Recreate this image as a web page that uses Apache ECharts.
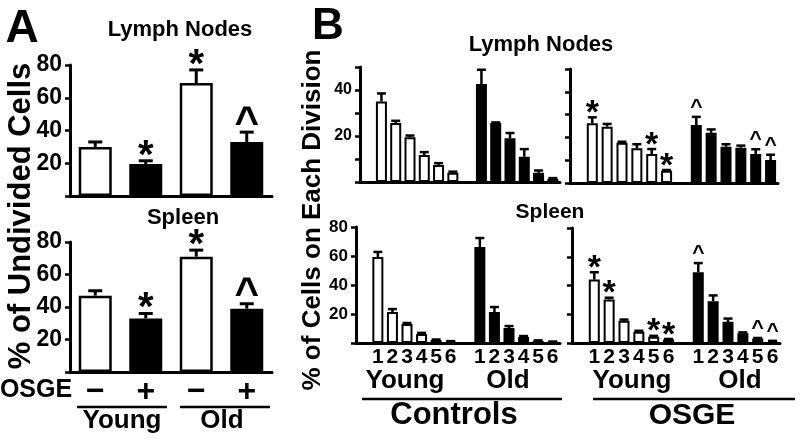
<!DOCTYPE html>
<html><head><meta charset="utf-8">
<script src="https://cdn.jsdelivr.net/npm/echarts@6/dist/echarts.min.js"></script>
<style>html,body{margin:0;padding:0;background:#fff}#c{width:800px;height:441px}</style>
</head><body><div id="c"></div>
<script>
// ---------- DATA ----------
// Panel A: % of undivided cells
const categoriesA = ['Young −', 'Young +', 'Old −', 'Old +'];
const lnUndivided = [30, 19.5, 69, 33];
const lnUndividedSem = [3, 2, 8, 6];
const lnUndividedMarks = ['', '*', '*', '^'];
const spUndivided = [47, 33, 71, 39];
const spUndividedSem = [3, 3, 4, 3];
const spUndividedMarks = ['', '*', '*', '^'];

// Panel B: % of cells on each division
const divisions = ['1', '2', '3', '4', '5', '6'];
const ctrlLnYoung = [35, 25.6, 19.5, 11.7, 7.4, 4];
const ctrlLnYoungSem = [3.5, 1, 0.7, 1.3, 0.8, 0.5];
const ctrlLnOld = [42.6, 25.6, 19, 11, 4, 1.3];
const ctrlLnOldSem = [6.2, 0.3, 2.3, 3.3, 1, 0.4];
const osgeLnYoung = [26.2, 24.7, 17.7, 15.2, 12.7, 5.4];
const osgeLnYoungSem = [2.6, 1.2, 0.4, 1.8, 2.2, 0.3];
const osgeLnYoungMarks = ['*', '', '', '', '*', '*'];
const osgeLnOld = [25.4, 22, 15.9, 15.5, 12.7, 10.1];
const osgeLnOldSem = [3.6, 1.5, 1.1, 0.9, 2.1, 2.3];
const osgeLnOldMarks = ['^', '', '', '', '^', '^'];
const ctrlSpYoung = [59.3, 21.4, 13.1, 6.2, 2, 1];
const ctrlSpYoungSem = [3.5, 2, 0.7, 0.8, 0.4, 0.3];
const ctrlSpOld = [66.2, 21.4, 10.3, 4.1, 1.5, 0.8];
const ctrlSpOldSem = [6.2, 3.4, 1.4, 0.7, 0.3, 0.2];
const osgeSpYoung = [44.1, 30.3, 15.4, 7.8, 4.4, 2.5];
const osgeSpYoungSem = [5.1, 1.2, 0.9, 0.7, 0.6, 0.3];
const osgeSpYoungMarks = ['*', '*', '', '', '*', '*'];
const osgeSpOld = [49.2, 29, 14.7, 6.7, 3.2, 1.3];
const osgeSpOldSem = [6.4, 4.1, 2.3, 0.7, 0.3, 0.2];
const osgeSpOldMarks = ['^', '', '', '', '^', '^'];
const noMarks = ['', '', '', '', '', ''];

// ---------- BUILD ----------
const FONT = '"Liberation Sans", Arial, Helvetica, sans-serif';
const slotsB = ['', ...divisions.map(d => 'Young ' + d), ' ', ...divisions.map(d => 'Old ' + d)];
const lastWord = v => { const p = String(v).split(' '); return p.length > 1 ? p[1] : ''; };

function makeErr(marks, o) {
  return function (params, api) {
    const i = api.value(0);
    const base = api.coord([i, api.value(1)]);
    const top = api.coord([i, api.value(2)]);
    const x = base[0];
    const ch = [
      { type: 'line', shape: { x1: x, y1: base[1], x2: x, y2: top[1] }, style: { stroke: '#000', lineWidth: o.lw } },
      { type: 'line', shape: { x1: x - o.cap, y1: top[1], x2: x + o.cap, y2: top[1] }, style: { stroke: '#000', lineWidth: o.lw } }
    ];
    const m = marks[params.dataIndex];
    if (m) {
      const star = m === '*';
      const size = star ? o.starSize : o.caretSize;
      const gap = star ? o.starGap : o.caretGap;
      const k = star ? 0.27 : 0.21;
      ch.push({ type: 'text', x: x, y: top[1] - gap + k * size,
        style: { text: m, fill: '#000', fontSize: size, fontWeight: 'bold', fontFamily: FONT, align: 'center', verticalAlign: 'middle' } });
    }
    return { type: 'group', children: ch };
  };
}

const series = [];
function addPanel(idx, n, slotIdx, values, sems, marks, fills, barW, o) {
  const barData = new Array(n).fill('-');
  const errData = [];
  values.forEach((v, j) => {
    barData[slotIdx[j]] = { value: v, itemStyle: { color: fills[j] } };
    errData.push([slotIdx[j], v, v + sems[j]]);
  });
  series.push({ type: 'bar', xAxisIndex: idx, yAxisIndex: idx, data: barData, barWidth: barW,
    itemStyle: { borderColor: '#000', borderWidth: o.bw }, silent: true });
  series.push({ type: 'custom', xAxisIndex: idx, yAxisIndex: idx, data: errData,
    encode: { x: 0, y: [1, 2] }, renderItem: makeErr(marks, o), silent: true, z: 5 });
}

const oA = { lw: 3, cap: 7, bw: 2.5, starSize: 40, caretSize: 42, starGap: 15, caretGap: 17 };
const oB = { lw: 2.5, cap: 4.5, bw: 2, starSize: 34, caretSize: 21, starGap: 13, caretGap: 14 };
const fillsA = ['#fff', '#000', '#fff', '#000'];
addPanel(0, 4, [0, 1, 2, 3], lnUndivided, lnUndividedSem, lnUndividedMarks, fillsA, 33, oA);
addPanel(1, 4, [0, 1, 2, 3], spUndivided, spUndividedSem, spUndividedMarks, fillsA, 33, oA);

const slotsIdxB = [...divisions.map((d, j) => j + 1), ...divisions.map((d, j) => j + 8)];
const fillsB = [...divisions.map(() => '#fff'), ...divisions.map(() => '#000')];
function addB(idx, yv, ys, ym, ov, os, om) {
  addPanel(idx, 14, slotsIdxB, yv.concat(ov), ys.concat(os), ym.concat(om), fillsB, 11, oB);
}
addB(2, ctrlLnYoung, ctrlLnYoungSem, noMarks, ctrlLnOld, ctrlLnOldSem, noMarks);
addB(3, osgeLnYoung, osgeLnYoungSem, osgeLnYoungMarks, osgeLnOld, osgeLnOldSem, osgeLnOldMarks);
addB(4, ctrlSpYoung, ctrlSpYoungSem, noMarks, ctrlSpOld, ctrlSpOldSem, noMarks);
addB(5, osgeSpYoung, osgeSpYoungSem, osgeSpYoungMarks, osgeSpOld, osgeSpOldSem, osgeSpOldMarks);

const grids = [
  { left: 70, top: 65, width: 202, height: 131 },
  { left: 70, top: 242, width: 202, height: 130 },
  { left: 360, top: 67, width: 200, height: 115 },
  { left: 570, top: 69, width: 208, height: 114 },
  { left: 356, top: 227, width: 204, height: 116 },
  { left: 572, top: 228, width: 208, height: 115 }
];

const axLine = { show: true, lineStyle: { color: '#000', width: 3 } };
function xAx(gi, data, showLabel, fontSize, margin) {
  return { type: 'category', gridIndex: gi, data, boundaryGap: true,
    axisLine: axLine, axisTick: { show: false },
    axisLabel: { show: showLabel, interval: 0, formatter: lastWord, color: '#000', fontFamily: FONT, fontWeight: 'bold', fontSize, margin } };
}
function yAx(gi, max, interval, labels, fontSize) {
  return { type: 'value', gridIndex: gi, min: 0, max, interval,
    axisLine: axLine, splitLine: { show: false },
    axisTick: { show: true, length: 5, lineStyle: { color: '#000', width: 2.5 } },
    axisLabel: { show: labels.length > 0, color: '#000', fontFamily: FONT, fontWeight: 'bold', fontSize, margin: 8,
      formatter: v => (labels.indexOf(v) >= 0 ? String(v) : '') } };
}

const xAxes = [
  xAx(0, categoriesA, false, 32, 4),
  xAx(1, categoriesA, true, 32, 4),
  xAx(2, slotsB, false, 21, 4),
  xAx(3, slotsB, false, 21, 4),
  xAx(4, slotsB, true, 21, 4),
  xAx(5, slotsB, true, 21, 4)
];
const yAxes = [
  yAx(0, 80, 20, [20, 40, 60, 80], 23),
  yAx(1, 80, 20, [20, 40, 60, 80], 23),
  yAx(2, 50, 10, [20, 40], 16),
  yAx(3, 50, 10, [], 16),
  yAx(4, 80, 20, [20, 40, 60, 80], 17),
  yAx(5, 80, 20, [], 17)
];

function txt(text, x, y, size, rot) {
  return { type: 'text', x, y, rotation: rot || 0,
    style: { text, fill: '#000', fontSize: size, fontWeight: 'bold', fontFamily: FONT,
      align: 'center', verticalAlign: 'middle' } };
}
function hline(x1, x2, y) {
  return { type: 'line', shape: { x1, y1: y, x2, y2: y }, style: { stroke: '#000', lineWidth: 2.5 } };
}

const graphics = [
  txt('A', 22, 29, 46),
  txt('B', 328, 27, 44),
  txt('Lymph Nodes', 180, 30, 22),
  txt('Spleen', 183, 218, 22),
  txt('Lymph Nodes', 541, 45, 22),
  txt('Spleen', 550, 212, 21),
  txt('% of Undivided Cells', 21, 216, 31, Math.PI / 2),
  txt('% of Cells on Each Division', 313, 220, 26, Math.PI / 2),
  txt('OSGE', 36, 390, 25),
  hline(77, 167, 407), hline(180, 270, 407),
  txt('Young', 122, 421, 26), txt('Old', 222, 421, 26),
  txt('Young', 405, 381, 26), txt('Old', 508, 381, 26),
  txt('Young', 632, 381, 26), txt('Old', 740, 381, 26),
  hline(362, 562, 399), hline(593, 795, 399),
  txt('Controls', 454, 415, 31), txt('OSGE', 692, 416, 30)
];

const chart = echarts.init(document.getElementById('c'), null, { renderer: 'canvas' });
chart.setOption({
  animation: false,
  backgroundColor: '#fff',
  grid: grids,
  xAxis: xAxes,
  yAxis: yAxes,
  series,
  graphic: graphics
});
</script></body></html>
